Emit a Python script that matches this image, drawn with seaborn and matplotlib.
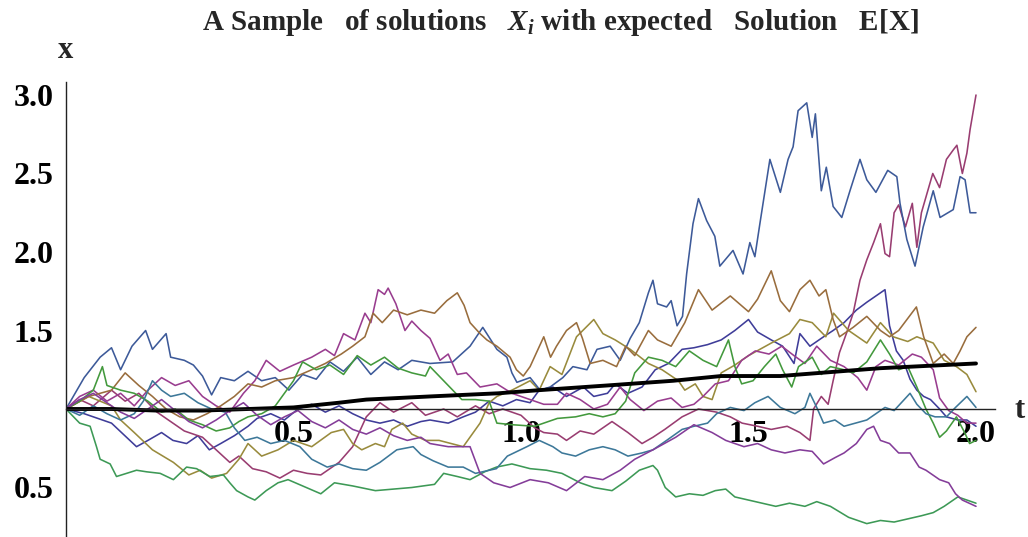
import numpy as np
import pandas as pd
import matplotlib
matplotlib.use("Agg")
import matplotlib.pyplot as plt
import seaborn as sns
from matplotlib.ticker import FixedLocator, NullFormatter, FixedFormatter

sns.set_theme(style="white")
plt.rcParams['font.family'] = ['Liberation Serif', 'DejaVu Serif']
plt.rcParams['mathtext.fontset'] = 'custom'
plt.rcParams['mathtext.it'] = 'Liberation Serif:italic:bold'
plt.rcParams['mathtext.rm'] = 'Liberation Serif:bold'

# Sample paths X_i(t), stored as (t, x) pairs
path_01 = [(0, 1.0), (0.04, 0.97), (0.08, 0.93), (0.1, 0.91), (0.133, 0.82), (0.155, 0.76), (0.18, 0.80),
           (0.21, 0.85), (0.235, 0.80), (0.265, 0.78), (0.29, 0.83), (0.315, 0.74), (0.34, 0.78), (0.37, 0.83),
           (0.4, 0.89), (0.42, 0.94), (0.45, 0.97), (0.48, 0.93), (0.51, 1.0), (0.54, 1.03), (0.57, 0.98),
           (0.6, 1.02), (0.63, 0.97), (0.66, 0.93), (0.69, 0.91), (0.72, 0.93), (0.75, 0.89), (0.78, 0.92),
           (0.8, 0.93), (0.84, 0.91), (0.873, 0.95), (0.9, 0.98), (0.93, 1.05), (0.96, 1.02), (0.99, 1.06),
           (1.02, 1.04), (1.04, 1.12), (1.07, 1.14), (1.1, 1.08), (1.137, 1.14), (1.16, 1.08), (1.19, 1.10),
           (1.207, 1.16), (1.235, 1.10), (1.266, 1.14), (1.295, 1.25), (1.324, 1.29), (1.354, 1.38),
           (1.38, 1.39), (1.41, 1.41), (1.44, 1.44), (1.47, 1.50), (1.5, 1.57), (1.52, 1.49), (1.55, 1.44),
           (1.575, 1.40), (1.6, 1.29), (1.613, 1.48), (1.635, 1.40), (1.665, 1.46), (1.686, 1.50),
           (1.71, 1.55), (1.737, 1.63), (1.76, 1.68), (1.79, 1.74), (1.8, 1.76), (1.81, 1.53), (1.825, 1.37),
           (1.84, 1.31), (1.855, 1.19), (1.87, 1.12), (1.885, 1.08), (1.9, 1.06), (1.92, 1.00), (1.935, 0.95),
           (1.96, 0.93), (1.98, 0.93), (2.0, 0.89)]

path_02 = [(0, 1.0), (0.03, 1.06), (0.06, 1.02), (0.1, 1.12), (0.13, 1.05), (0.16, 1.10), (0.2, 0.98),
           (0.23, 0.92), (0.26, 0.86), (0.3, 0.82), (0.33, 0.74), (0.36, 0.66), (0.38, 0.70), (0.41, 0.62),
           (0.44, 0.60), (0.47, 0.56), (0.5, 0.61), (0.53, 0.59), (0.56, 0.58), (0.6, 0.66), (0.63, 0.76),
           (0.66, 0.95), (0.69, 1.04), (0.72, 0.98), (0.76, 1.04), (0.79, 0.96), (0.83, 1.0), (0.86, 0.95),
           (0.9, 1.02), (0.93, 0.97), (0.96, 1.0), (1.0, 0.96), (1.03, 0.88), (1.05, 0.85), (1.08, 0.84),
           (1.1, 0.80), (1.13, 0.86), (1.16, 0.84), (1.2, 0.92), (1.235, 0.85), (1.266, 0.78), (1.29, 0.82),
           (1.316, 0.87), (1.354, 0.95), (1.39, 1.0), (1.43, 0.98), (1.46, 0.95), (1.486, 0.91), (1.52, 0.89),
           (1.55, 0.87), (1.585, 0.89), (1.613, 0.85), (1.635, 0.80), (1.643, 1.0), (1.66, 1.08),
           (1.675, 1.03), (1.686, 1.18), (1.7, 1.36), (1.715, 1.48), (1.73, 1.61), (1.745, 1.82),
           (1.76, 1.95), (1.775, 2.06), (1.79, 2.18), (1.8, 1.99), (1.81, 1.97), (1.82, 2.25), (1.83, 2.30),
           (1.845, 2.16), (1.86, 2.31), (1.87, 2.03), (1.88, 2.25), (1.89, 2.35), (1.905, 2.50), (1.92, 2.41),
           (1.935, 2.59), (1.95, 2.65), (1.958, 2.68), (1.97, 2.50), (1.98, 2.63), (1.987, 2.78), (2.0, 3.0)]

path_03 = [(0, 1.0), (0.05, 1.08), (0.1, 1.02), (0.12, 0.93), (0.15, 0.85), (0.19, 0.74), (0.236, 0.66),
           (0.27, 0.58), (0.295, 0.61), (0.32, 0.56), (0.353, 0.59), (0.38, 0.68), (0.4, 0.78), (0.43, 0.70),
           (0.466, 0.74), (0.5, 0.80), (0.54, 0.76), (0.583, 0.85), (0.61, 0.87), (0.63, 0.78), (0.65, 0.74),
           (0.68, 0.78), (0.7, 0.76), (0.716, 0.87), (0.74, 0.91), (0.76, 0.84), (0.79, 0.80), (0.82, 0.80),
           (0.873, 0.76), (0.91, 0.91), (0.93, 1.04), (0.947, 1.08), (0.98, 1.12), (1.02, 1.18), (1.04, 1.12),
           (1.064, 1.27), (1.09, 1.22), (1.122, 1.46), (1.16, 1.57), (1.18, 1.48), (1.207, 1.44), (1.24, 1.38),
           (1.28, 1.29), (1.31, 1.25), (1.346, 1.18), (1.36, 1.12), (1.383, 1.16), (1.4, 1.08), (1.42, 1.06),
           (1.44, 1.23), (1.47, 1.28), (1.5, 1.34), (1.55, 1.42), (1.59, 1.48), (1.613, 1.57), (1.64, 1.55),
           (1.67, 1.46), (1.687, 1.61), (1.72, 1.50), (1.76, 1.42), (1.79, 1.55), (1.818, 1.46), (1.85, 1.43),
           (1.87, 1.46), (1.906, 1.42), (1.93, 1.31), (1.957, 1.27), (1.98, 1.22), (2.0, 1.11)]

path_04 = [(0, 1.0), (0.03, 0.91), (0.053, 0.89), (0.067, 0.76), (0.075, 0.68), (0.097, 0.65), (0.111, 0.57),
           (0.133, 0.59), (0.155, 0.61), (0.177, 0.60), (0.207, 0.59), (0.236, 0.55), (0.265, 0.63),
           (0.287, 0.62), (0.316, 0.57), (0.346, 0.58), (0.36, 0.53), (0.375, 0.48), (0.4, 0.44), (0.415, 0.42),
           (0.44, 0.48), (0.466, 0.53), (0.488, 0.55), (0.52, 0.51), (0.56, 0.46), (0.59, 0.53), (0.63, 0.51),
           (0.68, 0.48), (0.72, 0.49), (0.76, 0.50), (0.81, 0.52), (0.83, 0.59), (0.86, 0.57), (0.888, 0.55),
           (0.92, 0.60), (0.946, 0.63), (0.98, 0.65), (1.02, 0.62), (1.056, 0.61), (1.09, 0.59), (1.13, 0.53),
           (1.16, 0.50), (1.2, 0.48), (1.23, 0.54), (1.26, 0.61), (1.29, 0.64), (1.3, 0.61), (1.317, 0.50),
           (1.34, 0.44), (1.37, 0.46), (1.4, 0.45), (1.427, 0.48), (1.45, 0.49), (1.47, 0.44), (1.5, 0.42),
           (1.53, 0.40), (1.56, 0.38), (1.59, 0.40), (1.624, 0.38), (1.65, 0.41), (1.68, 0.38), (1.72, 0.31),
           (1.76, 0.27), (1.79, 0.29), (1.82, 0.28), (1.85, 0.30), (1.88, 0.32), (1.906, 0.34), (1.93, 0.38),
           (1.96, 0.44), (1.98, 0.42), (2.0, 0.40)]

path_05 = [(0, 1.00), (0.04, 1.20), (0.075, 1.33), (0.10, 1.39), (0.12, 1.25), (0.145, 1.40), (0.175, 1.50),
           (0.19, 1.38), (0.22, 1.48), (0.23, 1.33), (0.26, 1.31), (0.28, 1.28), (0.30, 1.21), (0.32, 1.09),
           (0.34, 1.20), (0.37, 1.18), (0.40, 1.24), (0.43, 1.18), (0.46, 1.20), (0.49, 1.12), (0.52, 1.22),
           (0.55, 1.19), (0.58, 1.30), (0.61, 1.24), (0.64, 1.33), (0.67, 1.22), (0.70, 1.30), (0.73, 1.25),
           (0.76, 1.31), (0.80, 1.29), (0.85, 1.30), (0.888, 1.40), (0.916, 1.52), (0.947, 1.38), (0.969, 1.33),
           (0.98, 1.23), (0.991, 1.17), (1.02, 1.20), (1.042, 1.12), (1.064, 1.14), (1.092, 1.20), (1.114, 1.27),
           (1.145, 1.25), (1.167, 1.38), (1.196, 1.40), (1.218, 1.31), (1.24, 1.45), (1.26, 1.55), (1.28, 1.74),
           (1.29, 1.82), (1.30, 1.67), (1.32, 1.65), (1.33, 1.69), (1.343, 1.53), (1.355, 1.59), (1.364, 1.86),
           (1.378, 2.18), (1.39, 2.34), (1.408, 2.20), (1.426, 2.10), (1.437, 1.91), (1.466, 2.01),
           (1.488, 1.86), (1.503, 2.06), (1.514, 1.97), (1.525, 2.18), (1.547, 2.59), (1.57, 2.38),
           (1.587, 2.59), (1.598, 2.67), (1.609, 2.90), (1.628, 2.95), (1.64, 2.73), (1.647, 2.88),
           (1.66, 2.39), (1.671, 2.54), (1.686, 2.29), (1.705, 2.22), (1.723, 2.39), (1.745, 2.59),
           (1.76, 2.46), (1.78, 2.38), (1.806, 2.52), (1.826, 2.48), (1.833, 2.31), (1.848, 2.08),
           (1.866, 1.91), (1.884, 2.16), (1.906, 2.39), (1.921, 2.22), (1.95, 2.27), (1.965, 2.48),
           (1.976, 2.46), (1.987, 2.25), (2.0, 2.25)]

path_06 = [(0, 1.0), (0.03, 1.08), (0.06, 1.12), (0.09, 1.05), (0.12, 1.10), (0.15, 1.02), (0.18, 1.12),
           (0.21, 1.20), (0.24, 1.15), (0.27, 1.18), (0.3, 1.08), (0.33, 1.02), (0.36, 0.98), (0.39, 1.10),
           (0.415, 1.18), (0.44, 1.31), (0.47, 1.24), (0.5, 1.28), (0.54, 1.33), (0.57, 1.38), (0.59, 1.34),
           (0.61, 1.48), (0.635, 1.44), (0.657, 1.61), (0.67, 1.55), (0.686, 1.76), (0.7, 1.73), (0.708, 1.77),
           (0.725, 1.67), (0.745, 1.50), (0.76, 1.56), (0.78, 1.50), (0.8, 1.45), (0.822, 1.31), (0.84, 1.35),
           (0.86, 1.22), (0.88, 1.23), (0.91, 1.14), (0.947, 1.16), (0.98, 1.10), (1.02, 1.06), (1.05, 1.03),
           (1.08, 1.03), (1.1, 1.10), (1.13, 1.06), (1.16, 1.0), (1.19, 1.03), (1.218, 1.14), (1.24, 1.06),
           (1.27, 0.99), (1.3, 1.05), (1.33, 1.07), (1.354, 1.01), (1.38, 1.03), (1.4, 1.08), (1.427, 1.16),
           (1.456, 1.18), (1.485, 1.31), (1.515, 1.37), (1.545, 1.35), (1.573, 1.40), (1.6, 1.34),
           (1.624, 1.29), (1.65, 1.40), (1.68, 1.31), (1.71, 1.27), (1.74, 1.20), (1.76, 1.12), (1.78, 1.27),
           (1.8, 1.31), (1.83, 1.28), (1.86, 1.35), (1.88, 1.33), (1.906, 1.25), (1.92, 1.07), (1.94, 0.99),
           (1.96, 0.96), (1.98, 0.91), (2.0, 0.91)]

path_07 = [(0, 1.0), (0.05, 1.08), (0.1, 1.12), (0.13, 1.23), (0.16, 1.15), (0.19, 1.08), (0.22, 1.0),
           (0.25, 0.95), (0.28, 0.93), (0.31, 0.97), (0.34, 1.02), (0.37, 1.08), (0.4, 1.16), (0.43, 1.14),
           (0.46, 1.18), (0.5, 1.20), (0.54, 1.25), (0.57, 1.29), (0.605, 1.35), (0.63, 1.40), (0.657, 1.46),
           (0.675, 1.61), (0.695, 1.55), (0.72, 1.63), (0.75, 1.60), (0.78, 1.63), (0.81, 1.61), (0.837, 1.69),
           (0.86, 1.74), (0.875, 1.66), (0.888, 1.55), (0.91, 1.48), (0.925, 1.44), (0.947, 1.40),
           (0.976, 1.33), (0.99, 1.25), (1.005, 1.21), (1.02, 1.27), (1.05, 1.46), (1.065, 1.33), (1.078, 1.40),
           (1.1, 1.50), (1.122, 1.55), (1.135, 1.45), (1.152, 1.29), (1.18, 1.31), (1.21, 1.27), (1.23, 1.40),
           (1.25, 1.34), (1.28, 1.50), (1.30, 1.44), (1.33, 1.40), (1.36, 1.55), (1.39, 1.76), (1.42, 1.63),
           (1.46, 1.72), (1.5, 1.62), (1.52, 1.70), (1.55, 1.88), (1.57, 1.69), (1.59, 1.62), (1.613, 1.76),
           (1.635, 1.82), (1.655, 1.72), (1.67, 1.76), (1.686, 1.57), (1.7, 1.46), (1.73, 1.52), (1.76, 1.59),
           (1.79, 1.50), (1.81, 1.46), (1.83, 1.50), (1.869, 1.65), (1.885, 1.46), (1.906, 1.29),
           (1.93, 1.35), (1.95, 1.29), (1.965, 1.37), (1.98, 1.46), (2.0, 1.52)]

path_08 = [(0, 1.0), (0.03, 1.05), (0.06, 1.12), (0.08, 1.27), (0.09, 1.15), (0.12, 1.12), (0.15, 1.10),
           (0.18, 1.05), (0.21, 0.98), (0.24, 1.0), (0.27, 0.93), (0.3, 0.90), (0.33, 0.86), (0.36, 0.88),
           (0.38, 0.92), (0.4, 0.95), (0.43, 0.97), (0.46, 1.02), (0.5, 1.18), (0.52, 1.30), (0.55, 1.25),
           (0.58, 1.28), (0.61, 1.22), (0.64, 1.34), (0.67, 1.28), (0.7, 1.33), (0.73, 1.26), (0.76, 1.23),
           (0.79, 1.21), (0.8, 1.27), (0.83, 1.18), (0.87, 1.06), (0.9, 1.06), (0.93, 1.05), (0.947, 0.91),
           (0.98, 0.90), (1.03, 0.89), (1.08, 0.94), (1.12, 0.95), (1.15, 0.97), (1.18, 0.95), (1.207, 0.97),
           (1.23, 1.05), (1.25, 1.23), (1.28, 1.33), (1.31, 1.31), (1.34, 1.27), (1.37, 1.37), (1.4, 1.31),
           (1.43, 1.27), (1.456, 1.44), (1.47, 1.27), (1.485, 1.16), (1.51, 1.18), (1.535, 1.27), (1.56, 1.35),
           (1.575, 1.25), (1.595, 1.14), (1.61, 1.27), (1.64, 1.33), (1.66, 1.22), (1.68, 1.27), (1.71, 1.25),
           (1.73, 1.23), (1.76, 1.30), (1.79, 1.44), (1.81, 1.35), (1.83, 1.25), (1.85, 1.27), (1.87, 1.14),
           (1.89, 1.0), (1.906, 0.91), (1.92, 0.82), (1.935, 0.86), (1.957, 0.95), (1.975, 0.85),
           (1.986, 0.78), (2.0, 0.80)]

path_09 = [(0, 1.0), (0.03, 0.96), (0.06, 1.02), (0.09, 0.97), (0.12, 0.93), (0.15, 0.97), (0.17, 1.05),
           (0.19, 1.18), (0.21, 1.12), (0.23, 1.08), (0.26, 1.10), (0.29, 1.04), (0.32, 1.0), (0.35, 0.98),
           (0.37, 0.88), (0.393, 0.80), (0.42, 0.82), (0.45, 0.78), (0.48, 0.80), (0.514, 0.76), (0.54, 0.68),
           (0.574, 0.63), (0.6, 0.65), (0.63, 0.62), (0.66, 0.61), (0.69, 0.66), (0.727, 0.74), (0.763, 0.76),
           (0.78, 0.71), (0.807, 0.67), (0.84, 0.63), (0.873, 0.63), (0.9, 0.59), (0.946, 0.62), (0.97, 0.70),
           (1.013, 0.76), (1.04, 0.80), (1.07, 0.76), (1.09, 0.72), (1.12, 0.70), (1.15, 0.74), (1.18, 0.76),
           (1.207, 0.74), (1.235, 0.70), (1.266, 0.72), (1.29, 0.74), (1.32, 0.80), (1.354, 0.87), (1.38, 0.89),
           (1.41, 0.91), (1.43, 0.97), (1.46, 1.01), (1.49, 0.99), (1.514, 1.04), (1.543, 1.08), (1.57, 1.01),
           (1.602, 0.97), (1.624, 1.01), (1.635, 1.10), (1.65, 1.01), (1.665, 0.91), (1.69, 0.93), (1.71, 0.89),
           (1.735, 0.91), (1.76, 0.93), (1.78, 0.97), (1.8, 1.01), (1.82, 0.99), (1.855, 1.10), (1.87, 1.03),
           (1.89, 0.97), (1.91, 0.95), (1.935, 0.95), (1.955, 1.01), (1.98, 1.08), (2.0, 1.01)]

path_10 = [(0, 1.0), (0.03, 1.06), (0.06, 1.10), (0.09, 1.04), (0.12, 0.98), (0.15, 0.94), (0.18, 1.0),
           (0.21, 1.06), (0.24, 0.99), (0.27, 0.92), (0.3, 0.88), (0.33, 0.93), (0.36, 0.99), (0.39, 1.04),
           (0.42, 0.96), (0.45, 0.90), (0.48, 0.95), (0.51, 0.99), (0.54, 0.92), (0.57, 0.88), (0.6, 0.93),
           (0.63, 0.87), (0.66, 0.84), (0.69, 0.88), (0.72, 0.83), (0.75, 0.80), (0.78, 0.82), (0.8, 0.78),
           (0.84, 0.76), (0.888, 0.76), (0.91, 0.59), (0.94, 0.53), (0.976, 0.50), (1.02, 0.55), (1.06, 0.53),
           (1.1, 0.48), (1.14, 0.57), (1.18, 0.55), (1.218, 0.61), (1.25, 0.68), (1.29, 0.74), (1.34, 0.82),
           (1.38, 0.90), (1.42, 0.85), (1.45, 0.80), (1.49, 0.76), (1.52, 0.78), (1.55, 0.74), (1.58, 0.72),
           (1.613, 0.74), (1.64, 0.73), (1.665, 0.65), (1.69, 0.69), (1.71, 0.72), (1.737, 0.78), (1.76, 0.87),
           (1.775, 0.89), (1.79, 0.80), (1.81, 0.78), (1.83, 0.72), (1.855, 0.72), (1.875, 0.63), (1.89, 0.61),
           (1.92, 0.55), (1.94, 0.53), (1.955, 0.46), (1.97, 0.42), (2.0, 0.38)]

# Expected solution E[X](t)
mean_path = [(0, 1.0), (0.1, 1.0), (0.2, 0.99), (0.3, 0.99), (0.4, 1.0), (0.5, 1.01), (0.6, 1.04),
             (0.66, 1.06), (0.8, 1.08), (0.95, 1.10), (1.04, 1.12), (1.09, 1.13), (1.19, 1.15),
             (1.335, 1.18), (1.44, 1.21), (1.57, 1.21), (1.613, 1.22), (1.79, 1.26), (2.0, 1.29)]

paths = [path_01, path_02, path_03, path_04, path_05, path_06, path_07, path_08, path_09, path_10]
path_colors = ["#3F3D99", "#993D71", "#998B3D", "#3D9956", "#3D5A99",
               "#993D8F", "#996D3D", "#43993D", "#3D7899", "#843D99"]

x_major = [0.5, 1.0, 1.5, 2.0]
x_labels = ["0.5", "1.0", "1.5", "2.0"]
y_major = [0.5, 1.5, 2.0, 2.5, 3.0]
y_labels = ["0.5", "1.5", "2.0", "2.5", "3.0"]

frames = []
for i, p in enumerate(paths):
    arr = np.asarray(p, dtype=float)
    frames.append(pd.DataFrame({"t": arr[:, 0], "x": arr[:, 1], "path": f"X{i + 1}"}))
df = pd.concat(frames, ignore_index=True)
mean_arr = np.asarray(mean_path, dtype=float)
df_mean = pd.DataFrame({"t": mean_arr[:, 0], "x": mean_arr[:, 1]})

W, H = 1028, 537
fig = plt.figure(figsize=(W / 100, H / 100), dpi=100)
ax_left, ax_right, ax_top, ax_bottom = 66, 995, 82, 537
ax = fig.add_axes([ax_left / W, 1 - ax_bottom / H, (ax_right - ax_left) / W, (ax_bottom - ax_top) / H])

sns.lineplot(data=df, x="t", y="x", hue="path", palette=path_colors, estimator=None, sort=False,
             linewidth=1.15, legend=False, ax=ax)
sns.lineplot(data=df_mean, x="t", y="x", color="black", estimator=None, sort=False,
             linewidth=2.8, ax=ax)

ax.set_xlim(0, (ax_right - ax_left) / 455)
ax.set_ylim(1 - (ax_bottom - 409) / 157, 1 + (409 - ax_top) / 157)

for side in ("top", "right"):
    ax.spines[side].set_visible(False)
ax.spines["left"].set_position(("data", 0))
ax.spines["bottom"].set_position(("data", 1.0))
for side in ("left", "bottom"):
    ax.spines[side].set_color("#222222")
    ax.spines[side].set_linewidth(1.0)

ax.xaxis.set_major_locator(FixedLocator(x_major))
ax.xaxis.set_major_formatter(FixedFormatter(x_labels))
ax.xaxis.set_minor_locator(FixedLocator([k / 10 for k in range(1, 21)]))
ax.yaxis.set_major_locator(FixedLocator(y_major))
ax.yaxis.set_major_formatter(FixedFormatter(y_labels))
ax.yaxis.set_minor_locator(FixedLocator([k / 10 for k in range(2, 31)]))
ax.xaxis.set_minor_formatter(NullFormatter())
ax.yaxis.set_minor_formatter(NullFormatter())

ax.tick_params(axis="both", which="both", direction="in", color="#222222", width=0.8)
ax.tick_params(axis="x", which="major", length=5, pad=8, labelsize=23)
ax.tick_params(axis="x", which="minor", length=3)
ax.tick_params(axis="y", which="major", length=6, pad=9, labelsize=23)
ax.tick_params(axis="y", which="minor", length=3.5)
for lab in ax.get_xticklabels() + ax.get_yticklabels():
    lab.set_fontweight("bold")
    lab.set_color("black")

ax.set_xlabel("")
ax.set_ylabel("")
ax.grid(False)

fig.text(66 / W, 1 - 50 / H, "x", ha="center", va="center", fontsize=22, fontweight="bold")
fig.text(1020 / W, 1 - 410 / H, "t", ha="center", va="center", fontsize=22, fontweight="bold")
fig.text(560 / W, 1 - 22 / H,
         "A Sample   of solutions   $X_i$ with expected   Solution   E[X]",
         ha="center", va="center", fontsize=21, fontweight="bold")

fig.savefig("out.png", dpi=100)
